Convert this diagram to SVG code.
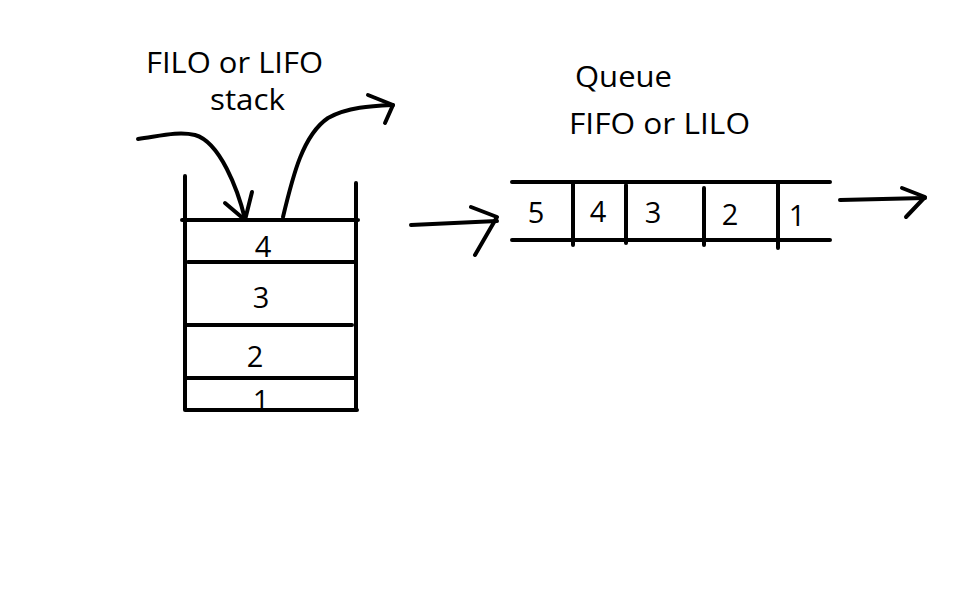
<svg xmlns="http://www.w3.org/2000/svg" width="964" height="615" viewBox="0 0 964 615">
<style>
.ln{stroke:#000;stroke-width:4;fill:none;stroke-linecap:round;stroke-linejoin:round}
.t{font-family:"Open Sans","Liberation Sans",sans-serif;font-size:29px;fill:#000}
.c{text-anchor:middle}
</style>
<rect width="964" height="615" fill="#fff"/>
<g id="stack-title">
<text class="t" x="146" y="73" textLength="177" lengthAdjust="spacingAndGlyphs">FILO or LIFO</text>
<text class="t" x="210" y="110" textLength="75" lengthAdjust="spacingAndGlyphs">stack</text>
</g>
<g id="stack">
<path class="ln" d="M185,176 V410 M356,183 V410 M182,220 H358 M188,262 H356 M187,325 H352 M186,378 H356 M185,410 H357"/>
<text class="t c" x="263" y="257">4</text>
<text class="t c" x="261" y="308">3</text>
<text class="t c" x="255" y="367">2</text>
<text class="t c" x="261" y="411">1</text>
</g>
<g id="queue-title">
<text class="t" x="575" y="87" textLength="97" lengthAdjust="spacingAndGlyphs">Queue</text>
<text class="t" x="569" y="134" textLength="181" lengthAdjust="spacingAndGlyphs">FIFO or LILO</text>
</g>
<g id="queue">
<path class="ln" d="M512,182 H830 M512,240 H830 M573,183 V245 M626,185 V243 M704,188 V245 M778,183 V248"/>
<text class="t c" x="536" y="223">5</text>
<text class="t c" x="598" y="222">4</text>
<text class="t c" x="653" y="223">3</text>
<text class="t c" x="730" y="225">2</text>
<text class="t c" x="797" y="226">1</text>
</g>
<g id="connectors">
<path class="ln" d="M138,139 C160,136 178,131 195,135 C220,142 238,190 245,219"/>
<path class="ln" d="M225,203 L245,220 L252,192"/>
<path class="ln" d="M283,217 C293,175 303,135 328,118 C348,107 372,106 393,105"/>
<path class="ln" d="M368,95 L393,105 L385,123"/>
<path class="ln" d="M411,225 L497,221"/>
<path class="ln" d="M471,207 L497,217 L475,255"/>
<path class="ln" d="M840,200 L925,198"/>
<path class="ln" d="M902,188 L925,197 L906,217"/>
</g>
</svg>
